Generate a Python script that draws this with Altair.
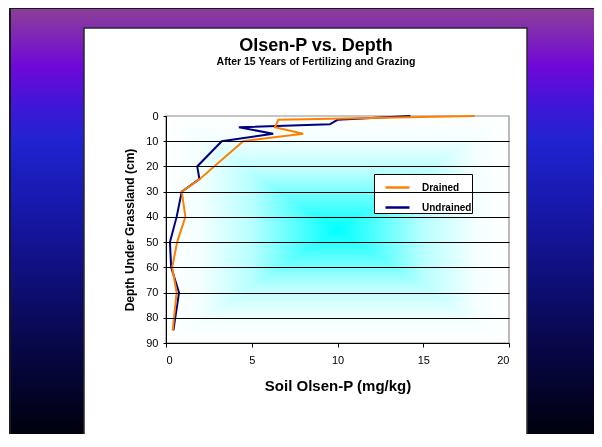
import altair as alt
import pandas as pd

# ---- data ----
series_names = ["Drained", "Undrained"]
drained_depth = [0, 1.5, 4.5, 7, 10, 25, 30, 40, 50, 60, 70, 85]
drained_p = [18.0, 6.55, 6.35, 8.0, 4.5, 1.97, 0.92, 1.13, 0.65, 0.36, 0.62, 0.39]
undrained_depth = [0, 1.5, 3.3, 4.5, 7, 10, 20, 25, 30, 40, 50, 60, 70, 85]
undrained_p = [14.25, 10.0, 9.55, 4.25, 6.25, 3.25, 1.82, 1.95, 0.92, 0.62, 0.23, 0.3, 0.76, 0.43]
x_ticks = [0, 5, 10, 15, 20]
y_ticks = [0, 10, 20, 30, 40, 50, 60, 70, 80, 90]
title_text = "Olsen-P vs. Depth"
subtitle_text = "After 15 Years of Fertilizing and Grazing"

rows = []
for d, p in zip(undrained_depth, undrained_p):
    rows.append({"series": "Undrained", "depth": d, "p": p})
for d, p in zip(drained_depth, drained_p):
    rows.append({"series": "Drained", "depth": d, "p": p})
df = pd.DataFrame(rows)

W, H = 343, 227
dummy = pd.DataFrame({"a": [0]})

slide_grad = alt.LinearGradient(
    gradient="linear", x1=0, x2=0, y1=0, y2=1,
    stops=[
        alt.GradientStop(offset=0.0, color="#8b3f96"),
        alt.GradientStop(offset=0.04, color="#8430aa"),
        alt.GradientStop(offset=0.13, color="#7008d8"),
        alt.GradientStop(offset=0.22, color="#4016d8"),
        alt.GradientStop(offset=0.30, color="#2024d0"),
        alt.GradientStop(offset=0.40, color="#1a1cb8"),
        alt.GradientStop(offset=0.52, color="#141498"),
        alt.GradientStop(offset=0.67, color="#0c0c68"),
        alt.GradientStop(offset=0.80, color="#060640"),
        alt.GradientStop(offset=0.93, color="#02021a"),
        alt.GradientStop(offset=1.0, color="#000006"),
    ],
)

slide = alt.Chart(dummy).mark_rect(
    fill=slide_grad, stroke="#1a1a1a", strokeWidth=2
).encode(
    x=alt.value(-156), x2=alt.value(440), y=alt.value(-108), y2=alt.value(331)
)

box = alt.Chart(dummy).mark_rect(
    fill="white", stroke="#2a2a2a", strokeWidth=1.5
).encode(
    x=alt.value(-82), x2=alt.value(361), y=alt.value(-88), y2=alt.value(321)
)

stops_c = [
    alt.GradientStop(offset=0.0, color="#ffffff"),
    alt.GradientStop(offset=0.1, color="#f4ffff"),
    alt.GradientStop(offset=0.25, color="#b8ffff"),
    alt.GradientStop(offset=0.5, color="#00ffff"),
    alt.GradientStop(offset=0.75, color="#b8ffff"),
    alt.GradientStop(offset=0.9, color="#f4ffff"),
    alt.GradientStop(offset=1.0, color="#ffffff"),
]
hgrad = alt.LinearGradient(gradient="linear", x1=0, x2=1, y1=0, y2=0, stops=stops_c)
vgrad = alt.LinearGradient(gradient="linear", x1=0, x2=0, y1=0, y2=1, stops=stops_c)

bg_h = alt.Chart(dummy).mark_rect(fill=hgrad).encode(
    x=alt.value(0), x2=alt.value(W), y=alt.value(0), y2=alt.value(H)
)
bg_v = alt.Chart(dummy).mark_rect(fill=vgrad, blend="lighten").encode(
    x=alt.value(0), x2=alt.value(W), y=alt.value(0), y2=alt.value(H)
)
# gray plot-area border (top and right show; left/bottom are covered by the axes)
frame = alt.Chart(dummy).mark_rect(fill="transparent", stroke="#8c8c8c", strokeWidth=1.2).encode(
    x=alt.value(0), x2=alt.value(W), y=alt.value(0), y2=alt.value(H)
)

titles = pd.DataFrame({"t": [title_text]})
subs = pd.DataFrame({"t": [subtitle_text]})
title_mark = alt.Chart(titles).mark_text(
    font="Liberation Sans", fontSize=18, fontWeight="bold", color="black",
    align="center", baseline="alphabetic"
).encode(text="t:N", x=alt.value(150), y=alt.value(-65))
sub_mark = alt.Chart(subs).mark_text(
    font="Liberation Sans", fontSize=10.5, fontWeight="bold", color="black",
    align="center", baseline="alphabetic"
).encode(text="t:N", x=alt.value(150), y=alt.value(-51))

lines = alt.Chart(df).mark_line(strokeWidth=2).encode(
    x=alt.X(
        "p:Q",
        scale=alt.Scale(domain=[0, 20], nice=False),
        axis=alt.Axis(
            values=x_ticks, title="Soil Olsen-P (mg/kg)", grid=False,
            tickSize=4, labelPadding=7, titlePadding=13, zindex=1,
        ),
    ),
    y=alt.Y(
        "depth:Q",
        scale=alt.Scale(domain=[0, 90], reverse=True, nice=False),
        axis=alt.Axis(
            values=y_ticks, title="Depth Under Grassland (cm)", grid=True,
            gridOpacity={"condition": {"test": "datum.value === 0 || datum.value === 90", "value": 0}, "value": 1},
            tickSize=3, labelPadding=5, titlePadding=9, zindex=1,
        ),
    ),
    color=alt.Color(
        "series:N",
        scale=alt.Scale(domain=series_names, range=["#ff8000", "#000080"]),
        legend=alt.Legend(
            title=None, orient="none", legendX=208, legendY=58,
            fillColor="white", strokeColor="#000000", padding=0,
            symbolType="stroke", symbolSize=576, symbolStrokeWidth=2.5,
            symbolOffset=10, labelOffset=11, rowPadding=1,
            labelFont="Liberation Sans", labelFontSize=10, labelFontWeight="bold",
            labelColor="black",
        ),
    ),
    order=alt.Order("depth:Q"),
)

chart = alt.layer(slide, box, title_mark, sub_mark, bg_h, bg_v, frame, lines).properties(
    width=W, height=H,
    autosize=alt.AutoSizeParams(type="none"),
    padding={"left": 158, "top": 108, "right": 85, "bottom": 91},
).configure_view(
    stroke=None
).configure_axis(
    domainColor="black", tickColor="black", labelColor="black", titleColor="black",
    labelFont="Liberation Sans", labelFontSize=11,
    titleFont="Liberation Sans", titleFontWeight="bold",
    gridWidth=1, gridColor="black",
).configure_axisX(
    titleFontSize=15
).configure_axisY(
    titleFontSize=12
)

chart.save("out.html", embed_options={"renderer": "svg", "actions": False})
